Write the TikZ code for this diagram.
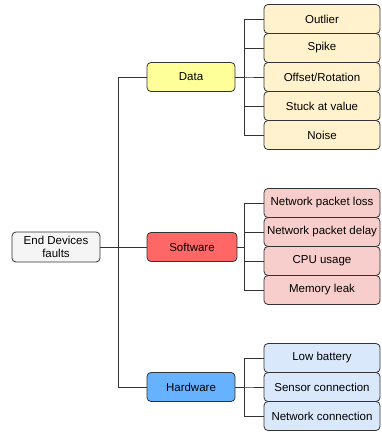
\documentclass[tikz,border=0pt]{standalone}
\usepackage{fontspec}
\setmainfont{Liberation Sans}
\definecolor{rootfill}{HTML}{F5F5F5}
\definecolor{datafill}{HTML}{FFFF99}
\definecolor{datachild}{HTML}{FFF2CC}
\definecolor{swfill}{HTML}{FF6666}
\definecolor{swchild}{HTML}{F8CECC}
\definecolor{hwfill}{HTML}{66B2FF}
\definecolor{hwchild}{HTML}{DAE8FC}
\definecolor{edge}{HTML}{333333}
\begin{document}
\begin{tikzpicture}[x=1pt,y=-1pt,
  box/.style={draw=edge, line width=0.8pt, rounded corners=4pt, align=center, inner sep=0pt, font=\fontsize{11.5}{13}\selectfont, text=black},
  rootbox/.style={box, fill=rootfill, minimum width=88pt, minimum height=30pt},
  catbox/.style={box, minimum width=88pt, minimum height=29pt},
  leaf/.style={box, minimum width=116pt, minimum height=29pt},
  conn/.style={draw=edge, line width=0.8pt}]
\useasboundingbox (0,0) rectangle (381,435);
% root
\node[rootbox] (root) at (56,247) {End Devices\\faults};
% categories
\node[catbox, fill=datafill] (data) at (191,77) {Data};
\node[catbox, fill=swfill, minimum width=90pt] (sw) at (192,247) {Software};
\node[catbox, fill=hwfill] (hw) at (191,387) {Hardware};
% data leaves
\node[leaf, fill=datachild] (d1) at (322,19) {Outlier};
\node[leaf, fill=datachild] (d2) at (322,48) {Spike};
\node[leaf, fill=datachild] (d3) at (322,77) {Offset/Rotation};
\node[leaf, fill=datachild] (d4) at (322,106) {Stuck at value};
\node[leaf, fill=datachild] (d5) at (322,135) {Noise};
% software leaves
\node[leaf, fill=swchild] (s1) at (322,203) {Network packet loss};
\node[leaf, fill=swchild] (s2) at (322,232) {Network packet delay};
\node[leaf, fill=swchild] (s3) at (322,261) {CPU usage};
\node[leaf, fill=swchild] (s4) at (322,290) {Memory leak};
% hardware leaves
\node[leaf, fill=hwchild] (h1) at (322,358) {Low battery};
\node[leaf, fill=hwchild] (h2) at (322,387) {Sensor connection};
\node[leaf, fill=hwchild] (h3) at (322,416) {Network connection};
% root connectors
\coordinate (tr) at (118.5,0);
\draw[conn] (root.east) -- (sw.west);
\draw[conn] (root.east) -| (tr |- data.west) -- (data.west);
\draw[conn] (root.east) -| (tr |- hw.west) -- (hw.west);
% sub connectors
\coordinate (st) at (244,0);
\foreach \p/\c in {data/d1,data/d2,data/d3,data/d4,data/d5,sw/s1,sw/s2,sw/s3,sw/s4,hw/h1,hw/h2,hw/h3}{
  \draw[conn] (\p.east) -| (st |- \c.west) -- (\c.west);
}
\end{tikzpicture}
\end{document}
